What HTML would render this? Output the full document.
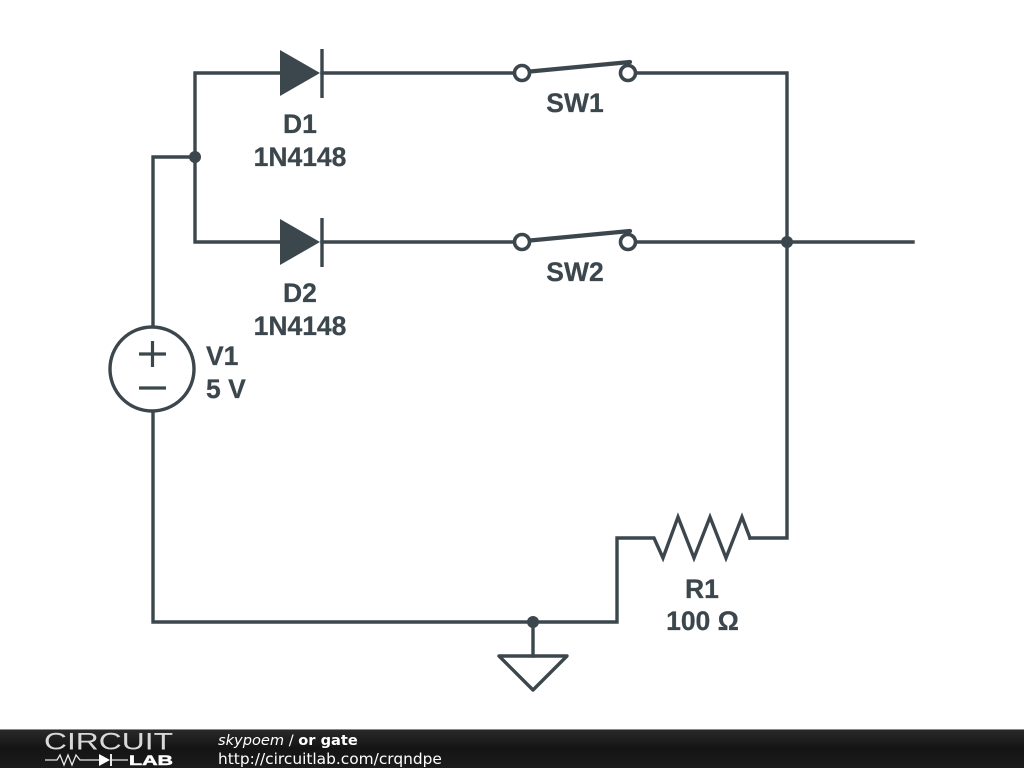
<!DOCTYPE html>
<html>
<head>
<meta charset="utf-8">
<style>
html,body{margin:0;padding:0;background:#fff;width:1024px;height:768px;overflow:hidden}
svg{display:block;position:absolute;left:0;top:0}
.l{font-family:"Liberation Sans",sans-serif;font-weight:bold;font-size:26.5px;fill:#3c474d;stroke:#3c474d;stroke-width:0.25;text-anchor:middle}
.w{fill:none;stroke:#3c474d;stroke-width:3.4;stroke-linejoin:miter;stroke-linecap:square}
.f{font-family:"DejaVu Sans",sans-serif;font-size:15.4px;fill:#fff}
</style>
</head>
<body>
<svg width="1024" height="768" viewBox="0 0 1024 768">
<defs>
<linearGradient id="g" x1="0" y1="0" x2="0" y2="1">
<stop offset="0" stop-color="#2a2a2a"/>
<stop offset="0.5" stop-color="#141414"/>
<stop offset="1" stop-color="#1c1c1c"/>
</linearGradient>
</defs>
<rect width="1024" height="768" fill="#fff"/>

<!-- wires -->
<path class="w" d="M153 326V157H195M195 73V242M195 73H281M322 73H515M635 73H787V538H750M195 242H281M322 242H515M635 242H913"/>
<path class="w" d="M153 412V622H617V538H654L663 558L678 517L694 558L710 517L726 558L742 517L750 538"/>
<path class="w" d="M533 622V656"/>
<path class="w" style="stroke-linejoin:round" d="M499 656H567L533 690Z"/>

<!-- junctions -->
<circle cx="195" cy="157" r="6" fill="#3c474d"/>
<circle cx="787" cy="242" r="6" fill="#3c474d"/>
<circle cx="533" cy="622" r="6" fill="#3c474d"/>

<!-- diodes -->
<path d="M280 50L320 73L280 96Z M280 219L320 242L280 265Z" fill="#3c474d"/>
<path d="M322 49V98M322 218V267" fill="none" stroke="#3c474d" stroke-width="3.4"/>

<!-- switches -->
<g fill="#fff" stroke="#3c474d" stroke-width="3.6">
<circle cx="522" cy="73" r="7.5"/>
<circle cx="628" cy="73" r="7.5"/>
<circle cx="522" cy="242" r="7.5"/>
<circle cx="628" cy="242" r="7.5"/>
</g>
<path d="M530 71.500L630 62M530 240.500L630 231" fill="none" stroke="#3c474d" stroke-width="4.2" stroke-linecap="round"/>

<!-- source -->
<circle cx="152" cy="369" r="42" fill="#fff" stroke="#3c474d" stroke-width="3.4"/>
<path d="M139 354H166M152.500 341V367M139 388H166" fill="none" stroke="#3c474d" stroke-width="3.2"/>

<!-- labels -->
<text class="l" x="300" y="133">D1</text>
<text class="l" x="300" y="166">1N4148</text>
<text class="l" x="575" y="112">SW1</text>
<text class="l" x="300" y="302">D2</text>
<text class="l" x="300" y="335">1N4148</text>
<text class="l" x="575" y="281">SW2</text>
<text class="l" x="206" y="365" style="text-anchor:start">V1</text>
<text class="l" x="206" y="398" style="text-anchor:start">5 V</text>
<text class="l" x="702" y="598">R1</text>
<text class="l" x="702.500" y="630">100 Ω</text>

<!-- footer -->
<rect x="0" y="729" width="1024" height="39" fill="url(#g)"/>
<rect x="0" y="729" width="1024" height="1" fill="#8a8a8a"/>
<text x="44" y="749.500" font-family="'DejaVu Sans ExtraLight','Liberation Sans',sans-serif" font-weight="200" font-size="24" fill="#d8d8d8" textLength="129" lengthAdjust="spacingAndGlyphs">CIRCUIT</text>
<path d="M45 760H57L60 755L64 765L68 755L72 765L76 755L80 760H99M112 760H128" fill="none" stroke="#e8e8e8" stroke-width="1.300"/>
<path d="M99 754L110 760L99 766Z" fill="#fff"/>
<path d="M111 754V766" stroke="#fff" stroke-width="1.800"/>
<text x="129" y="765" font-family="'Liberation Sans',sans-serif" font-size="14" font-weight="bold" fill="#fff" stroke="#fff" stroke-width="0.5" textLength="44" lengthAdjust="spacingAndGlyphs">LAB</text>
<text class="f" x="218" y="745" style="font-size:14.6px"><tspan font-style="italic">skypoem</tspan> / <tspan font-weight="bold">or gate</tspan></text>
<text class="f" x="218" y="764">http://circuitlab.com/crqndpe</text>
</svg>
</body>
</html>
